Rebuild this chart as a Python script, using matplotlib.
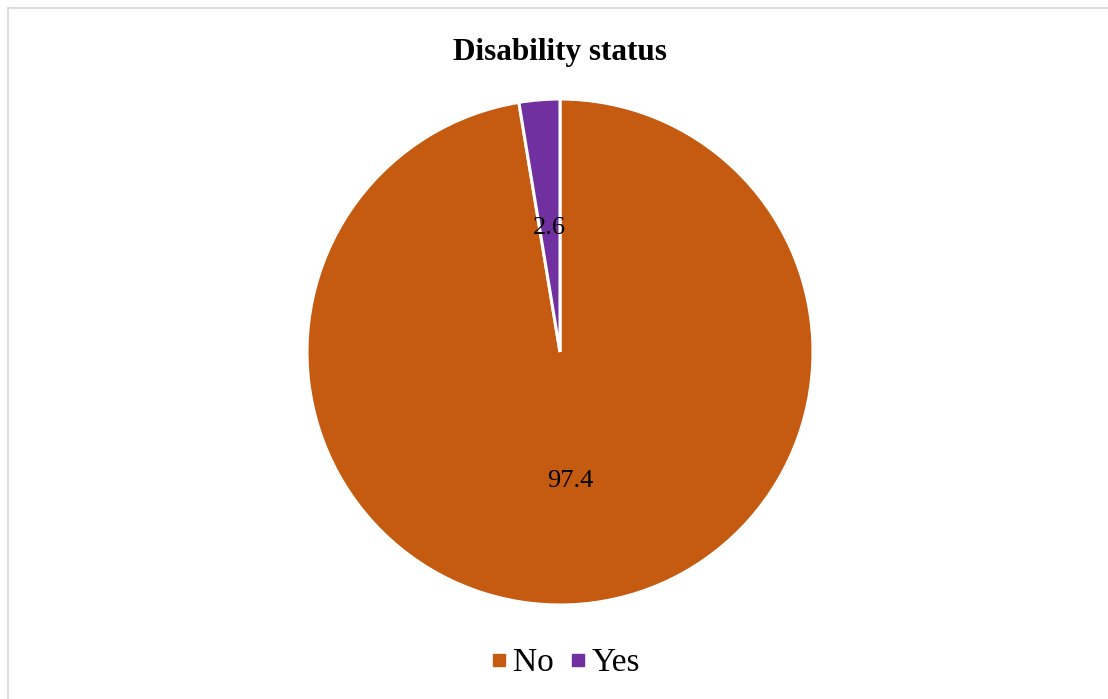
import matplotlib.pyplot as plt
from matplotlib.lines import Line2D

plt.rcParams['font.family'] = ['Liberation Serif', 'DejaVu Serif']

# Datos
labels = ["No", "Yes"]
values = [97.4, 2.6]
colors = ["#C55A11", "#7030A0"]

W, H = 1108, 699
fig = plt.figure(figsize=(W / 100, H / 100), dpi=100)

# Borde del área del gráfico (solo arriba e izquierda)
fig.add_artist(Line2D([7.5 / W, 1], [1 - 7.5 / H, 1 - 7.5 / H], color="#d9d9d9", lw=1.3))
fig.add_artist(Line2D([7.5 / W, 7.5 / W], [0, 1 - 7.5 / H], color="#d9d9d9", lw=1.3))

# Pastel: centro (560, 352), radio 253 px
cx, cy, r = 560, 352, 253
ax = fig.add_axes([(cx - r) / W, (H - cy - r) / H, 2 * r / W, 2 * r / H])
wedges, texts = ax.pie(values, colors=colors, startangle=90, counterclock=False,
                       labels=[f"{v:.1f}" for v in values], labeldistance=0.5,
                       wedgeprops=dict(edgecolor="white", linewidth=2.2),
                       textprops=dict(fontsize=19, color="black"))
for t in texts:
    t.set_ha("center")
    t.set_va("center_baseline")
ax.set_xlim(-1, 1)
ax.set_ylim(-1, 1)
ax.set_aspect("equal")
ax.axis("off")

fig.text(560 / W, 1 - 49 / H, "Disability status", ha="center", va="center_baseline",
         fontsize=22.5, fontweight="bold")

handles = [Line2D([], [], marker="s", linestyle="none", markersize=8,
                  markerfacecolor=c, markeredgecolor=c) for c in colors]
fig.legend(handles, labels, loc="center", bbox_to_anchor=(566 / W, 1 - 663 / H),
           ncol=2, frameon=False, fontsize=24, handlelength=0.45,
           handletextpad=0.2, columnspacing=0.5)

fig.savefig("out.png", dpi=100)
